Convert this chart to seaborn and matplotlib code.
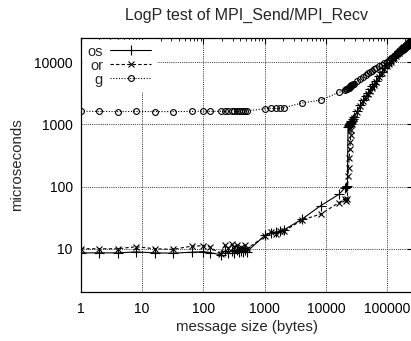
import matplotlib
matplotlib.use("Agg")
import matplotlib.pyplot as plt
import matplotlib.ticker as mticker
import pandas as pd
import seaborn as sns

# message sizes (bytes), shared by all three series
sizes = [1, 2, 4, 8, 16, 32, 64, 100, 128,
         192, 224, 256, 288, 320, 352, 384, 416, 448, 480, 512,
         1024, 1280, 1536, 1792, 2048,
         4096, 8192, 16384,
         20480, 21504, 22528, 23040, 23552, 24064, 24576, 25088, 25600, 26112, 26624, 27648, 28672,
         32768, 36864, 40960, 45056, 49152, 53248, 57344, 61440, 65536,
         73728, 81920, 90112, 98304, 106496, 114688, 122880, 131072, 139264, 147456,
         155648, 163840, 172032, 180224, 188416, 196608, 204800, 212992, 221184, 229376,
         237568, 245760, 253952, 262144]

os_us = [8.6, 8.6, 8.6, 8.9, 8.6, 8.5, 8.8, 9.0, 8.7,
         8.0, 9.2, 8.5, 9.3, 8.7, 9.5, 8.9, 9.2, 8.8, 9.6, 9.0,
         16.5, 18, 18.5, 19.5, 20,
         30, 49, 75,
         95, 100, 102, 900, 930, 980, 1000, 1050, 1070, 1120, 1150, 1200, 1290,
         1620, 2040, 2450, 2820, 3240, 3630, 4070, 4470, 4900,
         5890, 6900, 7940, 8900, 9770, 10700, 11500, 12300, 13200, 14100,
         14800, 15500, 16200, 17000, 17600, 18200, 18600, 19300, 20000, 20400,
         20900, 21600, 22400, 22900]

or_us = [10, 10, 10, 10.8, 10, 9.8, 11, 11.2, 10.7,
         8.2, 11.5, 10.2, 11.8, 10.5, 11.6, 10, 10.8, 9.8, 11.4, 10,
         16, 18.5, 17.5, 19, 19,
         29, 36, 55,
         64, 58, 62, 150, 200, 290, 400, 510, 670, 800, 1000, 1150, 1250,
         1550, 1950, 2350, 2700, 3100, 3480, 3900, 4300, 4700,
         5650, 6600, 7600, 8500, 9350, 10200, 11000, 11800, 12700, 13500,
         14200, 14900, 15600, 16300, 16900, 17500, 17900, 18600, 19200, 19700,
         20200, 20900, 21700, 22300]

g_us = [1620, 1610, 1600, 1610, 1600, 1600, 1610, 1620, 1610,
        1620, 1620, 1620, 1630, 1620, 1630, 1620, 1630, 1620, 1630, 1640,
        1780, 1800, 1800, 1820, 1850,
        2200, 2450, 3250,
        3550, 3630, 3720, 3800, 3850, 3900, 3980, 4070, 4150, 4220, 4270, 4370, 4470,
        4900, 5370, 5750, 6170, 6600, 6900, 7250, 7600, 7950,
        8500, 9100, 9800, 10200, 10700, 11500, 12000, 12600, 13200, 13500,
        14100, 14800, 15100, 15800, 16200, 16600, 17400, 17800, 18200, 18600,
        19500, 20000, 20400, 21400]

series = ["os", "or", "g"]
x_ticks = [1, 10, 100, 1000, 10000, 100000]
x_tick_labels = ["1", "10", "100", "1000", "10000", "100000"]
y_ticks = [10, 100, 1000, 10000]
y_tick_labels = ["10", "100", "1000", "10000"]

df = pd.DataFrame({"size": sizes * 3,
                   "time": os_us + or_us + g_us,
                   "series": [s for s in series for _ in sizes]})

sns.set_style("white")
plt.rcParams["font.family"] = ["Liberation Sans", "DejaVu Sans"]

fig = plt.figure(figsize=(4.11, 3.41), dpi=100)
ax = fig.add_axes([0.197, 0.1437, 0.807, 0.745])

styles = {
    "os": dict(linestyle="-", marker="+", markersize=6.5),
    "or": dict(linestyle=(0, (3, 2)), marker="x", markersize=4.5),
    "g": dict(linestyle=(0, (1, 1.5)), marker="o", markersize=4.2, mfc="none"),
}
for s in series:
    sns.lineplot(data=df[df["series"] == s], x="size", y="time", ax=ax,
                 color="black", linewidth=0.8, markeredgewidth=0.8,
                 markeredgecolor="black", label=s, **styles[s])

ax.set_xscale("log")
ax.set_yscale("log")
ax.set_xlim(1, 262144)
ax.set_ylim(2.02, 24400)

ax.xaxis.set_major_locator(mticker.FixedLocator(x_ticks))
ax.xaxis.set_major_formatter(mticker.FixedFormatter(x_tick_labels))
ax.xaxis.set_minor_locator(mticker.LogLocator(base=10, subs=range(2, 10), numticks=20))
ax.xaxis.set_minor_formatter(mticker.NullFormatter())
ax.yaxis.set_major_locator(mticker.FixedLocator(y_ticks))
ax.yaxis.set_major_formatter(mticker.FixedFormatter(y_tick_labels))
ax.yaxis.set_minor_locator(mticker.NullLocator())

ax.tick_params(which="both", direction="in", top=True, right=True, colors="black",
               labelsize=10)
ax.tick_params(which="major", length=4, width=0.8)
ax.tick_params(which="minor", length=2.5, width=0.6)
ax.tick_params(axis="x", pad=7)
ax.tick_params(axis="y", pad=6)

ax.grid(True, which="major", linestyle=(0, (1, 1.2)), color="0.2", linewidth=0.7)
ax.set_axisbelow(True)
for sp in ax.spines.values():
    sp.set_color("black")
    sp.set_linewidth(0.9)

ax.set_xlabel("message size (bytes)", fontsize=10.8, labelpad=3)
ax.set_ylabel("microseconds", fontsize=10.8, labelpad=7)
ax.set_title("LogP test of MPI_Send/MPI_Recv", fontsize=11.5, pad=13)

leg = ax.legend(loc="upper left", markerfirst=False, frameon=True, fontsize=10.5,
                handlelength=2.8, handletextpad=0.5, labelspacing=0.0,
                borderpad=0.3, borderaxespad=0.15, fancybox=False)
leg.get_frame().set_edgecolor("white")
leg.get_frame().set_facecolor("white")
leg.get_frame().set_alpha(1)

fig.savefig("out.png", dpi=100)
